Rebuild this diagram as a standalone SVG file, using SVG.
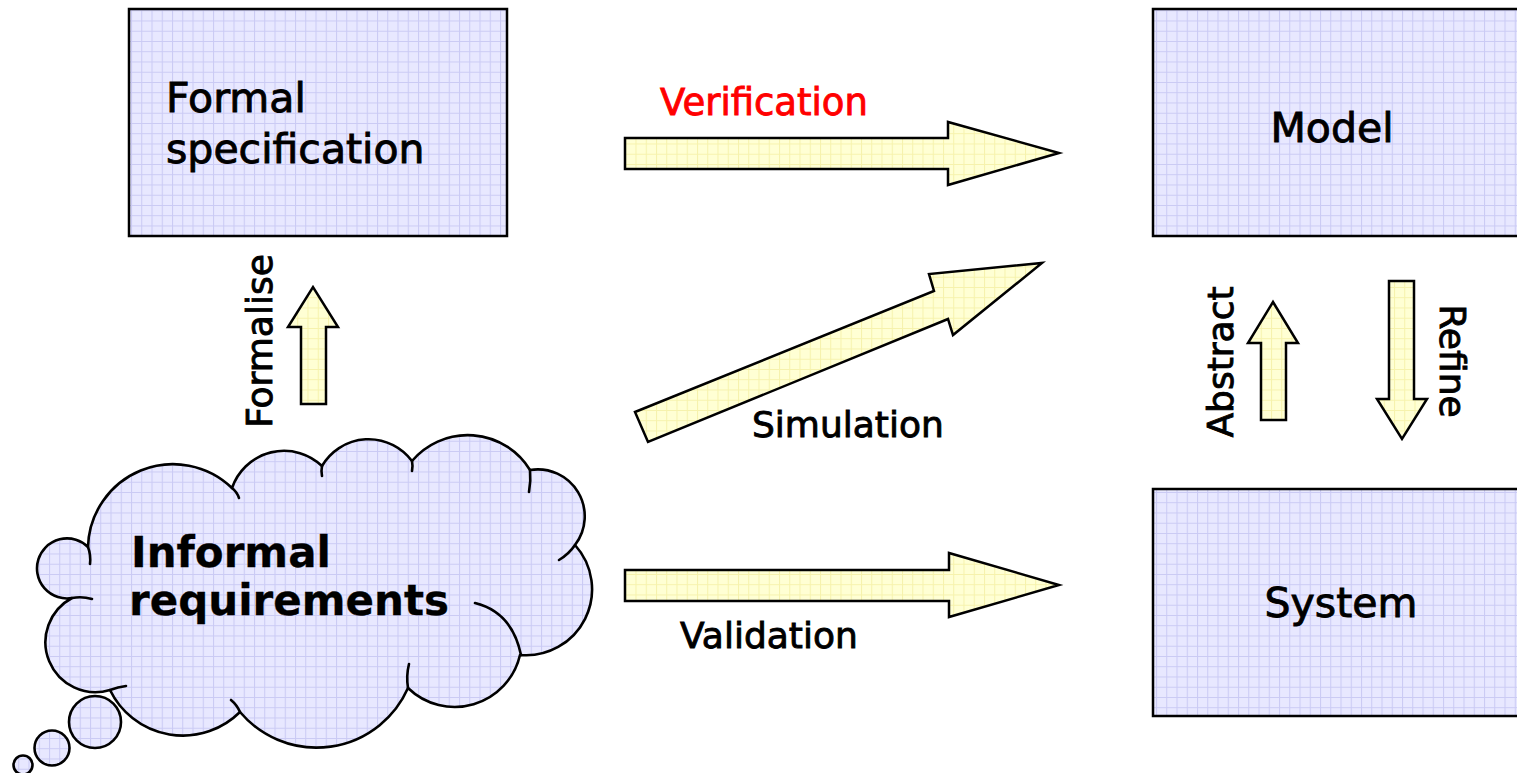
<svg xmlns="http://www.w3.org/2000/svg" width="1517" height="773" viewBox="0 0 1517 773">
  <defs>
    <!-- lavender graph-paper fill for nodes -->
    <pattern id="gridBlue" patternUnits="userSpaceOnUse" x="8" y="0" width="10.25" height="10.25">
      <rect width="10.25" height="10.25" fill="#e8e8ff"/>
      <path d="M0,0.5 H10.25 M0.5,0 V10.25" stroke="#cacaf4" stroke-width="1" fill="none"/>
    </pattern>
    <!-- pale yellow graph-paper fill for block arrows -->
    <pattern id="gridYellow" patternUnits="userSpaceOnUse" width="10.25" height="10.25">
      <rect width="10.25" height="10.25" fill="#ffffd4"/>
      <path d="M0,0.5 H10.25 M0.5,0 V10.25" stroke="#f6f2ac" stroke-width="1" fill="none"/>
    </pattern>
    <style>
      .box { fill: url(#gridBlue); stroke: #000; stroke-width: 2.5; }
      .cloud { fill: url(#gridBlue); stroke: #000; stroke-width: 2.6; stroke-linejoin: round; }
      .crease { fill: none; stroke: #000; stroke-width: 2.6; stroke-linecap: round; }
      .arrow { fill: url(#gridYellow); stroke: #000; stroke-width: 2.5; stroke-linejoin: miter; }
      .lbl { font-family: "DejaVu Sans", Verdana, sans-serif; fill: #000; stroke: #000; stroke-width: 0.9; }
      .red { fill: #ff0000; stroke: #ff0000; }
      .node { font-size: 41px; }
      .edge { font-size: 36px; }
      .bold { font-weight: bold; font-size: 42px; stroke-width: 0.3; }
    </style>
  </defs>

  <rect width="1517" height="773" fill="#fff"/>

  <!-- block arrows between the nodes -->
  <g id="connectors">
    <polygon id="verification" class="arrow" points="625,138 948,138 948,122 1059,153 948,185 948,169 625,169"/>
    <polygon id="simulation" class="arrow" points="635,412 934,291 929,274 1042,263 953,335 948,319 648,442"/>
    <polygon id="validation" class="arrow" points="625,570 949,570 949,553 1059,585 949,617 949,601 625,601"/>
    <polygon id="formalise" class="arrow" points="301,404 301,327 288,327 313,287 338,327 326,327 326,404"/>
    <polygon id="abstract" class="arrow" points="1261,420 1261,343 1248,343 1273,302 1298,343 1286,343 1286,420"/>
    <polygon id="refine" class="arrow" points="1389,281 1414,281 1414,399 1427,399 1402,439 1377,399 1389,399"/>

    <text class="lbl edge red" x="660" y="115" style="font-size:37px">Verification</text>
    <text class="lbl edge" x="752" y="437">Simulation</text>
    <text class="lbl edge" x="680" y="648">Validation</text>
    <text class="lbl edge" text-anchor="middle" transform="translate(272,341) rotate(-90)">Formalise</text>
    <text class="lbl edge" text-anchor="middle" transform="translate(1233,362) rotate(-90)">Abstract</text>
    <text class="lbl edge" text-anchor="middle" transform="translate(1440,361) rotate(90)">Refine</text>
  </g>

  <g id="formal-specification">
    <rect class="box" x="129" y="9" width="378" height="227"/>
    <text class="lbl node" x="166" y="112">Formal</text>
    <text class="lbl node" x="166" y="163">specification</text>
  </g>

  <g id="model">
    <rect class="box" x="1153" y="9" width="390" height="227"/>
    <text class="lbl node" x="1332" y="142" text-anchor="middle">Model</text>
  </g>

  <g id="system">
    <rect class="box" x="1153" y="489" width="390" height="227"/>
    <text class="lbl node" x="1341" y="617" text-anchor="middle">System</text>
  </g>

  <g id="informal-requirements">
    <!-- thought bubbles trailing to the lower left -->
    <circle class="cloud" cx="95" cy="722" r="26"/>
    <circle class="cloud" cx="52" cy="748" r="17.5"/>
    <circle class="cloud" cx="23" cy="765" r="9.5"/>
    <!-- cloud outline made of eleven arcs, clockwise from the left -->
    <path class="cloud" d="M88,547
      A85,85 0 0 1 232,488
      A55,55 0 0 1 322,466
      A54,54 0 0 1 412,461
      A73,73 0 0 1 530,470
      A47,47 0 0 1 575,545
      A66,66 0 0 1 520,655
      A67,67 0 0 1 408,688
      A100,100 0 0 1 240,712
      A81,81 0 0 1 110,690
      A50,50 0 0 1 72,598
      A30,30 0 1 1 88,547 Z"/>
    <!-- inner folds where the lobes overlap -->
    <path class="crease" d="M88,547 q3,8 2,17"/>
    <path class="crease" d="M232,488 q5,4 7,10"/>
    <path class="crease" d="M322,466 q-1,5 0,10"/>
    <path class="crease" d="M412,461 q1,5 0,10"/>
    <path class="crease" d="M530,470 q1,11 -1,22"/>
    <path class="crease" d="M575,545 q-6,9 -16,15"/>
    <path class="crease" d="M475,603 Q512,612 521,655"/>
    <path class="crease" d="M408,688 q-2,-12 1,-24"/>
    <path class="crease" d="M240,712 q-3,-7 -9,-12"/>
    <path class="crease" d="M110,690 q8,-3 16,-4"/>
    <path class="crease" d="M72,598 q10,-2 20,1"/>
    <text class="lbl bold" x="131" y="567">Informal</text>
    <text class="lbl bold" x="129" y="615">requirements</text>
  </g>
</svg>
